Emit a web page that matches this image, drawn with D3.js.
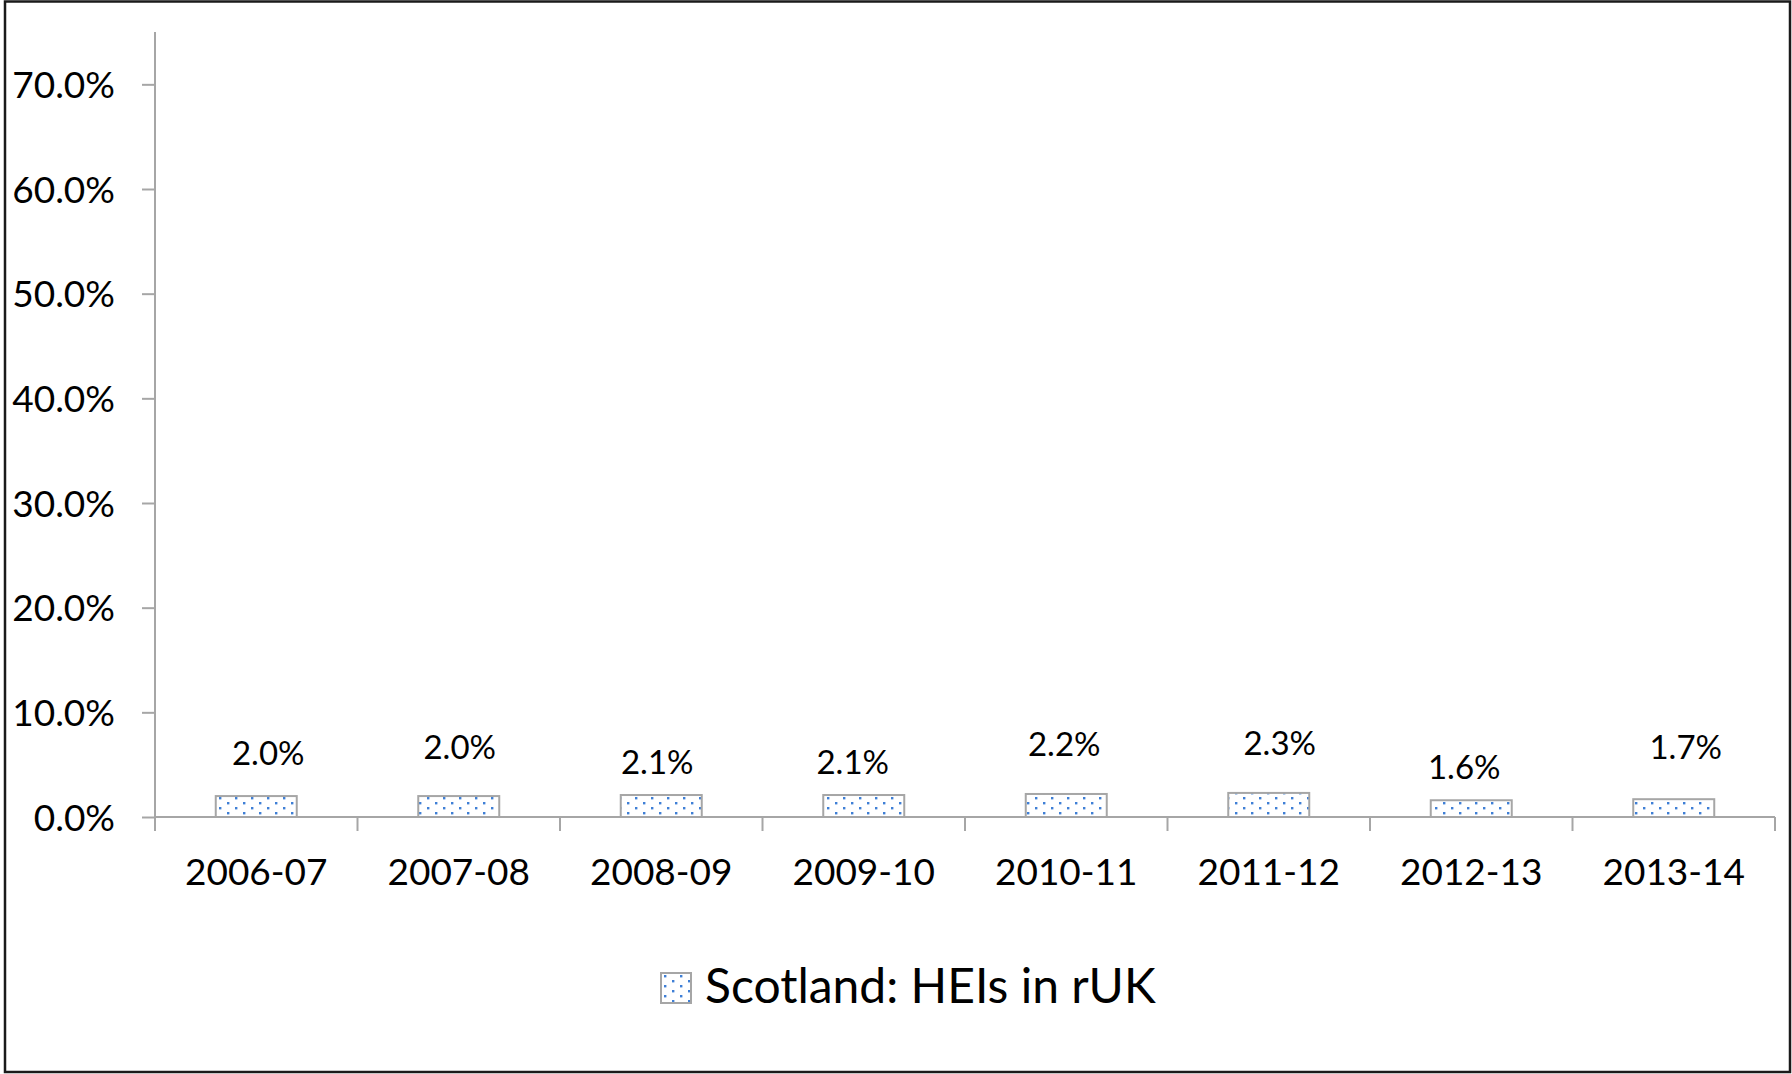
<!DOCTYPE html>
<html>
<head>
<meta charset="utf-8">
<script src="https://cdn.jsdelivr.net/npm/d3@7"></script>
<style>
  html, body { margin: 0; padding: 0; background: #ffffff; }
  svg { display: block; }
  text { font-family: Lato, "Open Sans", sans-serif; fill: #000000; }
</style>
</head>
<body>
<svg id="chart" width="1792" height="1074"></svg>
<script>
// Share of Scottish-domiciled students studying at HEIs in the rest of the UK
const categories = ["2006-07", "2007-08", "2008-09", "2009-10", "2010-11", "2011-12", "2012-13", "2013-14"];
const shareValues = [0.020, 0.020, 0.021, 0.021, 0.022, 0.023, 0.016, 0.017];
const yTickValues = [0, 0.1, 0.2, 0.3, 0.4, 0.5, 0.6, 0.7];
const seriesName = "Scotland: HEIs in rUK";

// Hand-placed data label offsets [dx, dy] relative to the bar top centre
const labelNudge = [[12, -43], [1, -49], [-4, -33], [-11, -33], [-2, -50], [11, -50], [-7, -33], [12, -52]];

const plot = { left: 155, right: 1775, top: 32, bottom: 817 };
const axisGrey = "#a6a6a6";
const dotBlue = "#3f7fd6";
const capMid = 0.358; // half the cap height, in em, to centre digits on a point

const svg = d3.select("#chart");

// dotted fill used by bars and legend key
const defs = svg.append("defs");
const pat = defs.append("pattern")
  .attr("id", "dots")
  .attr("patternUnits", "userSpaceOnUse")
  .attr("width", 16).attr("height", 10);
pat.append("rect").attr("width", 16).attr("height", 10).attr("fill", "#ffffff");
pat.append("rect").attr("x", 3).attr("y", 2).attr("width", 2.4).attr("height", 2.4).attr("fill", dotBlue);
pat.append("rect").attr("x", 11).attr("y", 7).attr("width", 2.4).attr("height", 2.4).attr("fill", dotBlue);

// chart frame
svg.append("rect")
  .attr("x", 5).attr("y", 1.5)
  .attr("width", 1785).attr("height", 1070.5)
  .attr("fill", "#ffffff")
  .attr("stroke", "#1a1a1a")
  .attr("stroke-width", 2.5);

const x = d3.scaleBand()
  .domain(categories)
  .range([plot.left, plot.right])
  .paddingInner(0.6)
  .paddingOuter(0.3);

const y = d3.scaleLinear()
  .domain([0, 0.75])
  .range([plot.bottom, plot.top]);

// y axis
const ySize = 37;
const yAxis = d3.axisLeft(y)
  .tickValues(yTickValues)
  .tickFormat(d3.format(".1%"))
  .tickSize(13)
  .tickSizeOuter(0)
  .tickPadding(27);

const gy = svg.append("g")
  .attr("transform", `translate(${plot.left},0)`)
  .call(yAxis);
gy.select(".domain").remove();
gy.selectAll(".tick line").attr("stroke", axisGrey).attr("stroke-width", 2);
gy.selectAll(".tick text")
  .attr("font-size", ySize)
  .attr("dy", null)
  .attr("y", ySize * capMid);

// vertical axis line (runs down to the bottom of the category ticks)
svg.append("line")
  .attr("x1", plot.left).attr("x2", plot.left)
  .attr("y1", plot.top).attr("y2", plot.bottom + 14)
  .attr("stroke", axisGrey).attr("stroke-width", 2);

// horizontal axis line
svg.append("line")
  .attr("x1", plot.left).attr("x2", plot.right)
  .attr("y1", plot.bottom).attr("y2", plot.bottom)
  .attr("stroke", axisGrey).attr("stroke-width", 2);

// category boundary ticks
const step = x.step();
const edgeOffset = step * x.paddingOuter();
const boundaries = categories.map(c => x(c) - edgeOffset)
  .concat([x(categories[categories.length - 1]) + x.bandwidth() + edgeOffset]);
svg.append("g").selectAll("line")
  .data(boundaries)
  .join("line")
  .attr("x1", d => d).attr("x2", d => d)
  .attr("y1", plot.bottom).attr("y2", plot.bottom + 14)
  .attr("stroke", axisGrey).attr("stroke-width", 2);

// category labels
const catSize = 37;
svg.append("g").selectAll("text")
  .data(categories)
  .join("text")
  .attr("x", d => x(d) + x.bandwidth() / 2)
  .attr("y", 872 + catSize * capMid)
  .attr("text-anchor", "middle")
  .attr("font-size", catSize)
  .text(d => d);

// bars
svg.append("g").selectAll("rect")
  .data(shareValues)
  .join("rect")
  .attr("x", (d, i) => x(categories[i]))
  .attr("y", d => y(d))
  .attr("width", x.bandwidth())
  .attr("height", d => y(0) - y(d))
  .attr("fill", "url(#dots)")
  .attr("stroke", axisGrey)
  .attr("stroke-width", 2);

// data labels
const fmt = d3.format(".1%");
const labelSize = 33;
svg.append("g").selectAll("text")
  .data(shareValues)
  .join("text")
  .attr("x", (d, i) => x(categories[i]) + x.bandwidth() / 2 + labelNudge[i][0])
  .attr("y", (d, i) => y(d) + labelNudge[i][1] + labelSize * capMid)
  .attr("text-anchor", "middle")
  .attr("font-size", labelSize)
  .text(d => fmt(d));

// legend
const legend = svg.append("g").attr("transform", "translate(661,973)");
legend.append("rect")
  .attr("x", 0).attr("y", 0)
  .attr("width", 30).attr("height", 30)
  .attr("fill", "url(#dots)")
  .attr("stroke", axisGrey)
  .attr("stroke-width", 2);
legend.append("text")
  .attr("x", 44)
  .attr("y", 13 + 48 * capMid)
  .attr("font-size", 48)
  .text(seriesName);
</script>
</body>
</html>
